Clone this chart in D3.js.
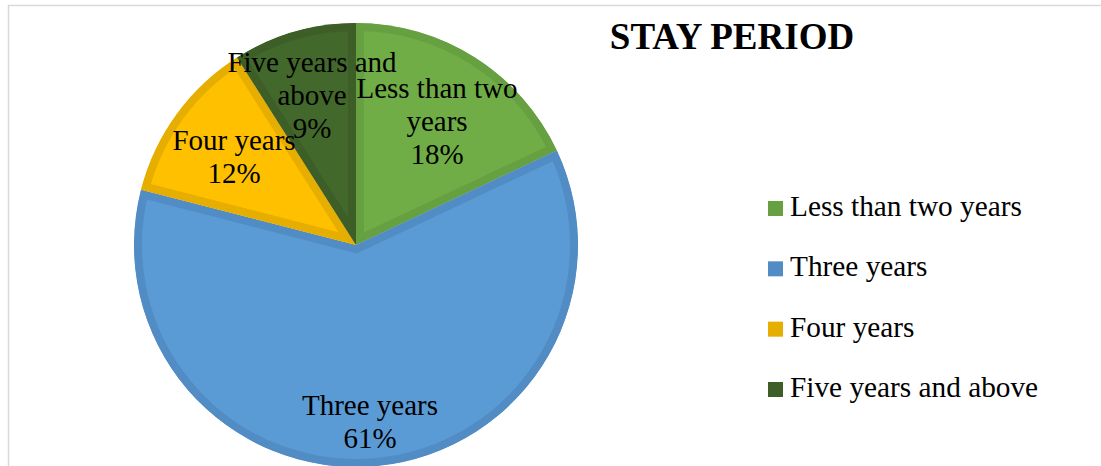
<!DOCTYPE html>
<html><head><meta charset="utf-8">
<script src="https://cdn.jsdelivr.net/npm/d3@7"></script>
<style>html,body{margin:0;padding:0;background:#fff;}svg{display:block;font-family:"Liberation Serif","Times New Roman",serif;}</style>
</head><body>
<script>
const categories = ["Less than two years", "Three years", "Four years", "Five years and above"];
const values = [18, 61, 12, 9];
const sliceLabels = [["Less than two", "years", "18%"], ["Three years", "61%"], ["Four years", "12%"], ["Five years and", "above", "9%"]];
const fills = ["#70AD47", "#5B9BD5", "#FFC000", "#43682B"];
const bands = ["#66A040", "#528CC4", "#E6AE00", "#3D5F27"];
const title = "STAY PERIOD";

const W = 1101, H = 466;
const svg = d3.select("body").append("svg").attr("width", W).attr("height", H);
const serif = "Liberation Serif";

// frame
svg.append("path").attr("d", "M8.5,466 V5.5 H1101").attr("fill", "none").attr("stroke", "#d9d9d9").attr("stroke-width", 1.5);

const cx = 356, cy = 245, R = 222;
const pie = d3.pie().sort(null).value(d => d)(values);
const arc = d3.arc().innerRadius(0).outerRadius(R);
const g = svg.append("g").attr("transform", `translate(${cx},${cy})`);
const defs = svg.append("defs");
pie.forEach((p, i) => {
  defs.append("clipPath").attr("id", "c" + i).append("path").attr("d", arc(p));
  g.append("path").attr("d", arc(p)).attr("fill", fills[i])
    .attr("stroke", bands[i]).attr("stroke-width", 16).attr("stroke-linejoin", "miter")
    .attr("clip-path", `url(#c${i})`);
});

// slice labels
const labelPos = [[437, 98], [370, 415], [234, 150], [312, 72]];
const lh = 33;
pie.forEach((p, i) => {
  const [lx, ly] = labelPos[i];
  const t = svg.append("text").style("font-family", serif).attr("font-size", 29)
    .attr("text-anchor", "middle").attr("fill", "#000");
  sliceLabels[i].forEach((s, j) => {
    t.append("tspan").attr("x", lx).attr("y", ly + j * lh).text(s);
  });
});

// title
svg.append("text").attr("x", 732).attr("y", 49).attr("text-anchor", "middle")
  .style("font-family", serif).attr("font-weight", "bold").attr("font-size", 37).text(title);

// legend
const ly = d3.scalePoint().domain(categories).range([216, 397]);
categories.forEach((c, i) => {
  svg.append("rect").attr("x", 768).attr("y", ly(c) - 15).attr("width", 15).attr("height", 15).attr("fill", bands[i]);
  svg.append("text").attr("x", 790).attr("y", ly(c)).style("font-family", serif).attr("font-size", 29.3).text(c);
});
</script>
</body></html>
